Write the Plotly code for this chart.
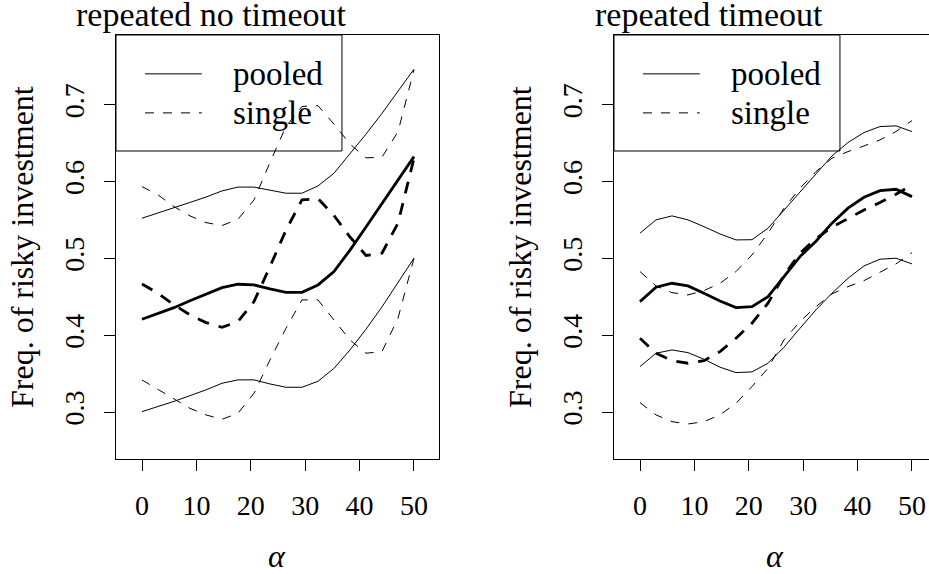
import plotly.graph_objects as go

# ---- data ----
alpha = [0, 2.94, 5.88, 8.82, 11.76, 14.71, 17.65, 20.59, 23.53, 26.47,
         29.41, 32.35, 35.29, 38.24, 41.18, 44.12, 47.06, 50]

# panel 1: repeated no timeout
pooled_mean_L = [0.421, 0.428, 0.436, 0.445, 0.4535, 0.462, 0.4665, 0.4656, 0.4604, 0.456,
                 0.456, 0.4656, 0.483, 0.511, 0.541, 0.5715, 0.602, 0.6327]
pooled_hi_L = [0.5525, 0.559, 0.566, 0.573, 0.580, 0.588, 0.593, 0.593, 0.589, 0.585,
               0.585, 0.5945, 0.611, 0.636, 0.662, 0.689, 0.717, 0.7465]
pooled_lo_L = [0.3007, 0.307, 0.314, 0.3215, 0.329, 0.3376, 0.342, 0.342, 0.3367, 0.3324,
               0.3324, 0.3402, 0.357, 0.381, 0.408, 0.437, 0.4687, 0.5004]
single_mean_L = [0.4669, 0.4548, 0.4396, 0.4266, 0.4166, 0.4105, 0.4179, 0.4439, 0.4895, 0.537,
                 0.5763, 0.578, 0.556, 0.528, 0.504, 0.507, 0.546, 0.6306]
single_hi_L = [0.5937, 0.5828, 0.5676, 0.5555, 0.5468, 0.5429, 0.5512, 0.5763, 0.625, 0.672,
               0.698, 0.699, 0.675, 0.649, 0.631, 0.632, 0.665, 0.7456]
single_lo_L = [0.3419, 0.3298, 0.3168, 0.305, 0.2964, 0.2907, 0.2986, 0.3246, 0.368, 0.4092,
               0.4461, 0.4461, 0.42, 0.394, 0.3767, 0.3788, 0.4222, 0.5004]

# panel 2: repeated timeout
pooled_mean_R = [0.4439, 0.4626, 0.4678, 0.4643, 0.4548, 0.4448, 0.4361, 0.4374, 0.4504, 0.4764,
                 0.5025, 0.5226, 0.546, 0.5655, 0.5798, 0.5884, 0.5902, 0.5806]
pooled_hi_R = [0.533, 0.5503, 0.5555, 0.5503, 0.5415, 0.532, 0.5242, 0.5245, 0.5394, 0.5633,
               0.5871, 0.611, 0.6336, 0.651, 0.664, 0.6718, 0.6727, 0.6653]
pooled_lo_R = [0.3593, 0.3767, 0.381, 0.3775, 0.3689, 0.3585, 0.3515, 0.3524, 0.3637, 0.3845,
               0.4092, 0.4331, 0.4548, 0.4743, 0.4904, 0.4991, 0.5004, 0.493]
single_mean_R = [0.3962, 0.3767, 0.3671, 0.3637, 0.3671, 0.3788, 0.3962, 0.4158, 0.4418, 0.478,
                 0.507, 0.526, 0.5407, 0.5524, 0.5633, 0.5728, 0.5837, 0.5958]
single_hi_R = [0.483, 0.4643, 0.4556, 0.4526, 0.4582, 0.4678, 0.483, 0.5047, 0.533, 0.5655,
               0.5915, 0.6132, 0.6306, 0.6392, 0.6466, 0.6544, 0.6653, 0.6796]
single_lo_R = [0.3124, 0.2964, 0.2876, 0.2846, 0.2876, 0.2964, 0.3116, 0.3333, 0.3572, 0.394,
               0.4179, 0.4374, 0.4539, 0.4634, 0.4712, 0.4817, 0.493, 0.5077]

titles = ["repeated no timeout", "repeated timeout"]
legend_labels = ["pooled", "single"]
x_ticks = [0, 10, 20, 30, 40, 50]
y_ticks = [0.3, 0.4, 0.5, 0.6, 0.7]
y_title = "Freq. of risky investment"
x_title = "<i>α</i>"

FONT = "Liberation Serif"
W, H = 929, 574
TOP, BOT = 35, 459          # plot-area top / bottom in pixels
PH = BOT - TOP
THIN_DASH = "9px,9px"
THICK_DASH = "12px,10px"


def py2paper(py):
    return (BOT - py) / PH


fig = go.Figure()

panels = [
    ("x", "y", pooled_mean_L, pooled_hi_L, pooled_lo_L, single_mean_L, single_hi_L, single_lo_L),
    ("x2", "y2", pooled_mean_R, pooled_hi_R, pooled_lo_R, single_mean_R, single_hi_R, single_lo_R),
]
for xa, ya, pm, ph, pl, sm, sh, sl in panels:
    for vals, width, dash in [
        (ph, 1, "solid"), (pl, 1, "solid"),
        (sh, 1, THIN_DASH), (sl, 1, THIN_DASH),
        (pm, 2.8, "solid"), (sm, 2.8, THICK_DASH),
    ]:
        fig.add_trace(go.Scatter(x=alpha, y=vals, xaxis=xa, yaxis=ya, mode="lines",
                                 line=dict(color="black", width=width, dash=dash),
                                 showlegend=False, hoverinfo="skip"))

XR_L = [-4.78, 54.6]
XR_R = [-4.78, 53.13]
YR = [0.239, 0.791]

axis_common = dict(showline=True, linecolor="black", linewidth=1, ticks="outside",
                   ticklen=11, tickwidth=1, tickcolor="black", showgrid=False,
                   zeroline=False, tickfont=dict(family=FONT, size=28, color="black"))

fig.update_layout(
    width=W, height=H, autosize=False,
    margin=dict(l=0, r=0, t=TOP, b=H - BOT),
    paper_bgcolor="white", plot_bgcolor="white",
    xaxis=dict(domain=[116 / W, 439 / W], range=XR_L, mirror=True,
               tickvals=x_ticks, ticklabelstandoff=10, anchor="y", **axis_common),
    xaxis2=dict(domain=[614 / W, 1.0], range=XR_R, mirror=True,
                tickvals=x_ticks, ticklabelstandoff=10, anchor="y2", **axis_common),
    yaxis=dict(domain=[0, 1], range=YR, mirror=True, tickvals=y_ticks,
               ticktext=[f"{v:.1f}" for v in y_ticks], tickangle=-90,
               ticklabelstandoff=9, anchor="x", **axis_common),
    yaxis2=dict(domain=[0, 1], range=YR, mirror=False, tickvals=y_ticks,
                ticktext=[f"{v:.1f}" for v in y_ticks], tickangle=-90,
                ticklabelstandoff=9, anchor="x2", **axis_common),
    showlegend=False,
)

# legend boxes (drawn R-style, transparent background)
LEG_X1 = 36.76
LEG_Y0 = 0.640
for i, (xa, ya) in enumerate([("x", "y"), ("x2", "y2")]):
    xr = XR_L if i == 0 else XR_R
    fig.add_shape(type="rect", xref=xa, yref=ya, x0=xr[0], x1=LEG_X1, y0=LEG_Y0, y1=YR[1],
                  line=dict(color="black", width=1), fillcolor="rgba(0,0,0,0)")
    fig.add_shape(type="line", xref=xa, yref=ya, x0=0.55, x1=11.0, y0=0.7404, y1=0.7404,
                  line=dict(color="black", width=1))
    fig.add_shape(type="line", xref=xa, yref=ya, x0=0.55, x1=11.0, y0=0.6896, y1=0.6896,
                  line=dict(color="black", width=1, dash=THIN_DASH))
    for lab, yy in zip(legend_labels, [0.7404, 0.6896]):
        fig.add_annotation(xref=xa, yref=ya, x=16.4, y=yy, text=lab, showarrow=False,
                           xanchor="left", yanchor="middle",
                           font=dict(family=FONT, size=33, color="black"))

# titles and axis labels
for cx, t in zip([211, 709], titles):
    fig.add_annotation(xref="paper", yref="paper", x=cx / W, y=py2paper(15),
                       text=t, showarrow=False, xanchor="center", yanchor="middle",
                       borderpad=0, font=dict(family=FONT, size=34, color="black"))
for cx in [22, 520]:
    fig.add_annotation(xref="paper", yref="paper", x=cx / W, y=0.5, text=y_title,
                       textangle=-90, showarrow=False, xanchor="center", yanchor="middle",
                       font=dict(family=FONT, size=32, color="black"))
for cx in [277, 775]:
    fig.add_annotation(xref="paper", yref="paper", x=cx / W, y=py2paper(556),
                       text=x_title, showarrow=False, xanchor="center", yanchor="middle",
                       font=dict(family=FONT, size=32, color="black"))

fig.write_html("out.html", config={"displayModeBar": False},
               post_script="document.body.style.margin='0';")
